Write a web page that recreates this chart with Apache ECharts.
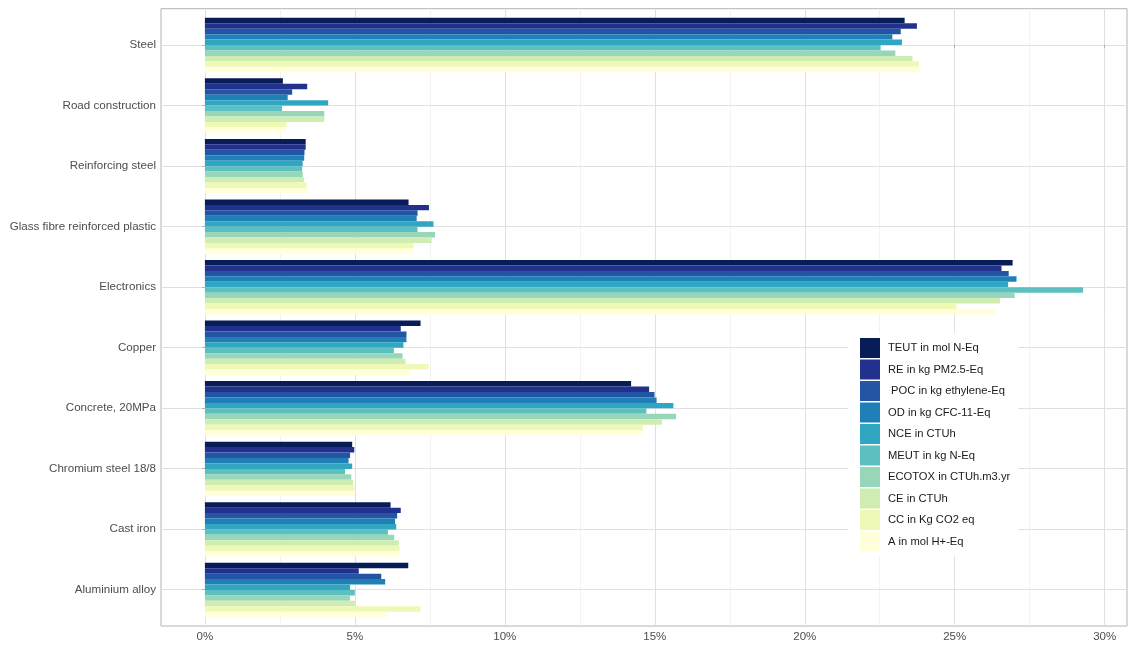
<!DOCTYPE html>
<html>
<head>
<meta charset="utf-8">
<script src="https://cdn.jsdelivr.net/npm/echarts@6/dist/echarts.min.js"></script>
<style>
  html, body { margin: 0; padding: 0; background: #ffffff; }
  #chart { width: 1129px; height: 646px; }
</style>
</head>
<body>
<div id="chart"></div>
<script>
// Materials, listed top to bottom
const categories = [
  'Steel', 'Road construction', 'Reinforcing steel', 'Glass fibre reinforced plastic',
  'Electronics', 'Copper', 'Concrete, 20MPa', 'Chromium steel 18/8', 'Cast iron', 'Aluminium alloy'
];

// Impact indicator names (legend order)
const indicators = [
  'TEUT in mol N-Eq', 'RE in kg PM2.5-Eq', ' POC in kg ethylene-Eq', 'OD in kg CFC-11-Eq',
  'NCE in CTUh', 'MEUT in kg N-Eq', 'ECOTOX in CTUh.m3.yr', 'CE in CTUh', 'CC in Kg CO2 eq', 'A in mol H+-Eq'
];

// Share of each indicator (%) per material
const teut   = [23.33, 2.60, 3.36, 6.79, 26.93, 7.19, 14.21, 4.91, 6.19, 6.78];
const re     = [23.74, 3.41, 3.36, 7.47, 26.56, 6.53, 14.81, 4.98, 6.53, 5.13];
const poc    = [23.20, 2.91, 3.32, 7.09, 26.80, 6.72, 14.99, 4.84, 6.41, 5.88];
const od     = [22.92, 2.76, 3.31, 7.06, 27.06, 6.72, 15.06, 4.79, 6.34, 6.01];
const nce    = [23.24, 4.11, 3.26, 7.62, 26.78, 6.62, 15.62, 4.91, 6.38, 4.84];
const meut   = [22.53, 2.57, 3.24, 7.09, 29.28, 6.30, 14.72, 4.67, 6.10, 5.00];
const ecotox = [23.02, 3.98, 3.26, 7.67, 27.00, 6.59, 15.71, 4.88, 6.31, 4.84];
const ce     = [23.59, 3.98, 3.31, 7.56, 26.51, 6.69, 15.24, 4.94, 6.46, 5.00];
const cc     = [23.80, 2.72, 3.39, 6.96, 25.06, 7.46, 14.61, 4.99, 6.49, 7.19];
const acid   = [23.83, 2.70, 3.43, 6.96, 26.36, 6.83, 14.58, 5.00, 6.49, 6.06];

const seriesValues = [teut, re, poc, od, nce, meut, ecotox, ce, cc, acid];

// x-axis tick positions (%)
const xTicks = [0, 5, 10, 15, 20, 25, 30];
const xMinorTicks = [2.5, 7.5, 12.5, 17.5, 22.5, 27.5];

// YlGnBu ramp, dark to light
const palette = ['#081d58', '#22318d', '#2355a4', '#1f80b8', '#31a6c2',
                 '#5dc0c0', '#97d6b9', '#cfecb3', '#eff9b6', '#ffffd9'];

// Value range with 5% padding on both sides of [0, max]
const dataMax = Math.max(...seriesValues.map(s => Math.max(...s)));
const pad = dataMax * 0.05;
const xMin = -pad, xMax = dataMax + pad;

const textColor = '#4d4d4d';
const font = 'Liberation Sans, Arial, sans-serif';
const catIdx = categories.map((_, i) => i);

const chart = echarts.init(document.getElementById('chart'), null, { renderer: 'canvas' });

const option = {
  animation: false,
  backgroundColor: '#ffffff',
  color: palette,
  grid: [
    // panel frame, gridlines, axis text
    { left: 161, right: 2, top: 8.7, bottom: 20, show: true, borderColor: '#b3b3b3', borderWidth: 1, backgroundColor: '#ffffff', containLabel: false },
    // bars: category bands span centre-0.5 .. centre+0.5
    { left: 161, right: 2, top: 14.75, bottom: 25.75, containLabel: false }
  ],
  xAxis: [
    {
      gridIndex: 0, type: 'value', min: xMin, max: xMax,
      axisLine: { show: false },
      axisTick: { show: true, length: 3, customValues: xTicks, lineStyle: { color: '#b3b3b3' } },
      axisLabel: { customValues: xTicks, formatter: v => v + '%', color: textColor, fontSize: 11.5, fontFamily: font, margin: 5 },
      splitLine: { show: true, lineStyle: { color: '#e0e0e0', width: 1 } }
    },
    {
      gridIndex: 0, type: 'value', min: xMin, max: xMax,
      axisLine: { show: false },
      axisTick: { show: false, customValues: xMinorTicks },
      axisLabel: { show: false, customValues: xMinorTicks },
      splitLine: { show: true, lineStyle: { color: '#ececec', width: 0.7 } }
    },
    {
      gridIndex: 1, type: 'value', min: xMin, max: xMax, show: false
    }
  ],
  yAxis: [
    {
      gridIndex: 0, type: 'value', min: -0.6, max: categories.length - 1 + 0.6, inverse: true,
      axisLine: { show: false },
      axisTick: { show: true, length: 3, customValues: catIdx, lineStyle: { color: '#b3b3b3' } },
      axisLabel: { customValues: catIdx, formatter: v => categories[Math.round(v)], color: textColor, fontSize: 11.6, fontFamily: font, margin: 5 },
      splitLine: { show: true, lineStyle: { color: '#e0e0e0', width: 1 } }
    },
    {
      gridIndex: 1, type: 'category', data: categories, inverse: true, show: false
    }
  ],
  legend: {
    orient: 'vertical',
    left: 848, top: 333,
    backgroundColor: '#ffffff',
    padding: [5, 8, 5, 12],
    itemWidth: 20, itemHeight: 20, itemGap: 1.5,
    icon: 'rect',
    selectedMode: false,
    textStyle: { color: '#1a1a1a', fontSize: 11.2, fontFamily: font, padding: [0, 0, 0, 3] },
    data: indicators
  },
  series: indicators.map((name, i) => ({
    name: name,
    type: 'bar',
    xAxisIndex: 2,
    yAxisIndex: 1,
    data: seriesValues[i],
    barGap: '0%',
    barCategoryGap: '10%',
    itemStyle: { color: palette[i] }
  }))
};

chart.setOption(option);
</script>
</body>
</html>
